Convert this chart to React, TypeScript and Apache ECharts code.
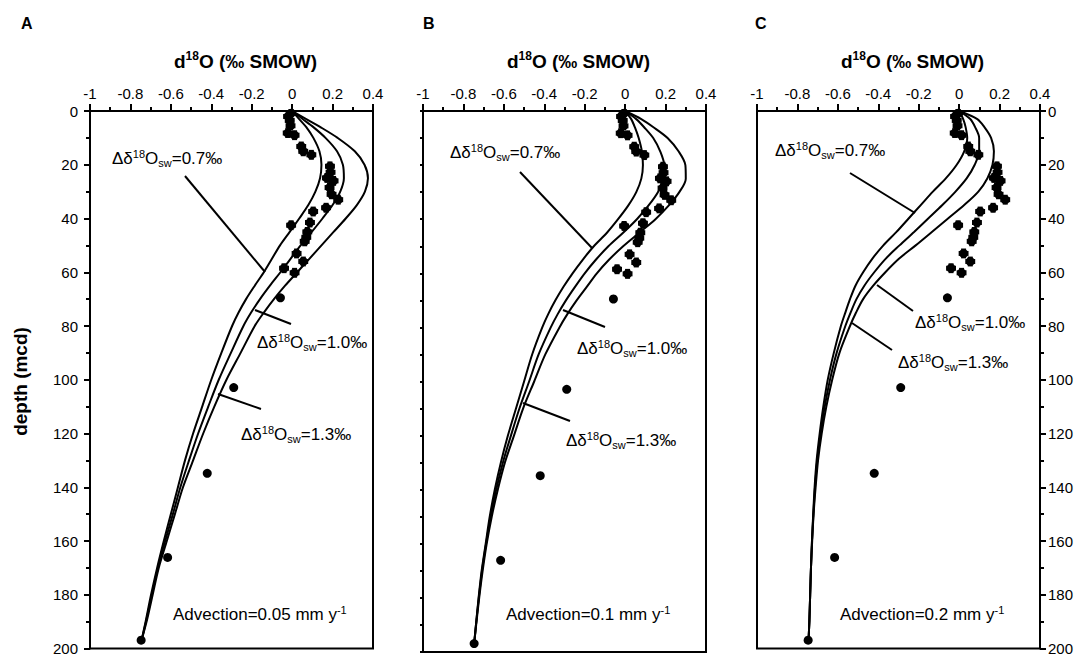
import { useEffect, useRef } from 'react';
import * as echarts from 'echarts';

// ---------- data ----------
const xTickLabels = ['-1', '-0.8', '-0.6', '-0.4', '-0.2', '0', '0.2', '0.4'];
const yTickLabels = ['0', '20', '40', '60', '80', '100', '120', '140', '160', '180', '200'];
const panelLetters = ['A', 'B', 'C'];
const advectionRates = ['0.05', '0.1', '0.2'];
const deltaSW = ['0.7', '1.0', '1.3'];

// depth grid for model curves (mcd)
const modelDepth = [0, 3, 6, 10, 15, 20, 25, 30, 35, 40, 45, 50, 55, 60, 65, 70, 75, 80, 90, 100, 110, 120, 130, 140, 150, 160, 170, 180, 190, 197];

// Panel A (advection 0.05 mm/y)
const a07 = [0, 0.035, 0.07, 0.105, 0.135, 0.145, 0.138, 0.115, 0.08, 0.035, -0.012, -0.06, -0.1, -0.14, -0.185, -0.228, -0.265, -0.297, -0.35, -0.4, -0.445, -0.49, -0.53, -0.565, -0.6, -0.635, -0.668, -0.698, -0.725, -0.745];
const a10 = [0, 0.052, 0.105, 0.165, 0.222, 0.251, 0.256, 0.238, 0.2, 0.15, 0.097, 0.042, -0.008, -0.058, -0.11, -0.159, -0.203, -0.241, -0.303, -0.363, -0.415, -0.465, -0.51, -0.553, -0.59, -0.628, -0.664, -0.694, -0.723, -0.745];
const a13 = [0, 0.07, 0.14, 0.225, 0.31, 0.358, 0.375, 0.36, 0.32, 0.265, 0.205, 0.145, 0.085, 0.025, -0.035, -0.09, -0.14, -0.185, -0.255, -0.325, -0.385, -0.44, -0.49, -0.54, -0.58, -0.62, -0.66, -0.69, -0.72, -0.745];

// Panel B (advection 0.1 mm/y)
const b07 = [0, 0.03, 0.048, 0.067, 0.083, 0.088, 0.08, 0.055, 0.015, -0.035, -0.09, -0.155, -0.21, -0.26, -0.305, -0.345, -0.38, -0.41, -0.46, -0.5, -0.54, -0.58, -0.615, -0.645, -0.67, -0.69, -0.71, -0.725, -0.738, -0.747];
const b10 = [0, 0.055, 0.094, 0.139, 0.174, 0.193, 0.19, 0.162, 0.115, 0.058, -0.01, -0.083, -0.145, -0.2, -0.248, -0.293, -0.333, -0.368, -0.428, -0.475, -0.523, -0.565, -0.605, -0.638, -0.665, -0.688, -0.708, -0.724, -0.738, -0.747];
const b13 = [0, 0.08, 0.14, 0.21, 0.265, 0.298, 0.3, 0.268, 0.215, 0.15, 0.07, -0.01, -0.08, -0.14, -0.19, -0.24, -0.285, -0.325, -0.395, -0.45, -0.505, -0.55, -0.595, -0.63, -0.66, -0.685, -0.705, -0.722, -0.737, -0.747];

// Panel C (advection 0.2 mm/y)
const c07 = [0, 0.02, 0.032, 0.04, 0.025, -0.012, -0.065, -0.13, -0.19, -0.25, -0.31, -0.375, -0.43, -0.475, -0.513, -0.54, -0.563, -0.585, -0.62, -0.65, -0.672, -0.69, -0.705, -0.715, -0.722, -0.728, -0.733, -0.737, -0.741, -0.745];
const c10 = [0, 0.055, 0.079, 0.099, 0.099, 0.077, 0.038, -0.018, -0.083, -0.153, -0.223, -0.295, -0.364, -0.42, -0.469, -0.508, -0.537, -0.563, -0.606, -0.639, -0.665, -0.685, -0.702, -0.713, -0.721, -0.728, -0.733, -0.737, -0.741, -0.745];
const c13 = [0, 0.09, 0.125, 0.158, 0.172, 0.165, 0.14, 0.095, 0.025, -0.055, -0.135, -0.215, -0.298, -0.365, -0.425, -0.475, -0.51, -0.54, -0.592, -0.628, -0.657, -0.68, -0.698, -0.71, -0.72, -0.727, -0.733, -0.737, -0.741, -0.745];

// Observed pore-water d18O
const obsDepth = [0.8, 2.0, 3.5, 5.5, 8.2, 9.0, 13.2, 15.0, 16.3, 20.6, 22.8, 24.9, 26.0, 28.5, 31.0, 33.0, 36.0, 37.4, 41.5, 42.5, 45.0, 47.0, 48.5, 53.0, 56.0, 58.5, 60.2, 69.5, 102.9, 134.8, 166.1, 196.9];
const obsValue = [-0.005, -0.02, -0.012, -0.008, -0.022, 0.012, 0.045, 0.055, 0.095, 0.187, 0.19, 0.172, 0.205, 0.185, 0.195, 0.228, 0.168, 0.104, 0.088, -0.005, 0.075, 0.07, 0.062, 0.022, 0.055, -0.04, 0.012, -0.058, -0.289, -0.42, -0.616, -0.747];
const obsXErr = [0.02, 0.02, 0.02, 0.02, 0.02, 0.02, 0.02, 0.02, 0.02, 0.02, 0.02, 0.02, 0.02, 0.02, 0.02, 0.02, 0.02, 0.02, 0.02, 0.02, 0.02, 0.02, 0.02, 0.02, 0.02, 0.02, 0.02, 0, 0, 0, 0, 0];
const obsYErr = [1.2, 1.2, 1.2, 1.2, 1.5, 1.5, 1.5, 1.5, 1.5, 1.5, 1.5, 1.5, 1.5, 1.5, 1.5, 1.5, 1.5, 1.5, 1.5, 1.5, 1.5, 1.5, 1.5, 1.5, 1.5, 1.5, 1.5, 0, 0, 0, 0, 0];

const panelCurves = [
  [a07, a10, a13],
  [b07, b10, b13],
  [c07, c10, c13],
];

// ---------- layout ----------
const FONT = '"Liberation Sans", Arial, Helvetica, sans-serif';
const GRID_TOP = 111;
const GRID_W = 283;
const GRID_H = 541;
const gridLefts = [90, 423, 757];
const letterX = [21, 423, 755];

// annotation layout per panel: label [x, yCenter], leader [x1,y1,x2,y2]
const annoLayout = [
  {
    labels: [[112, 158], [257, 342], [241, 434]],
    leaders: [[185, 176, 265, 272], [255, 310, 291, 324], [218, 394, 261, 409]],
    adv: [173, 614],
  },
  {
    labels: [[450, 152], [577, 348], [566, 440]],
    leaders: [[520, 172, 592, 248], [563, 310, 605, 327], [523, 403, 570, 421]],
    adv: [506, 614],
  },
  {
    labels: [[775, 150], [915, 322], [898, 362]],
    leaders: [[850, 173, 915, 213], [877, 285, 913, 311], [852, 323, 892, 350]],
    adv: [840, 614],
  },
];

const annoRich = {
  n: { fontSize: 17, fontFamily: FONT, lineHeight: 20, verticalAlign: 'middle', fill: '#000' },
  sup: { fontSize: 11, fontFamily: FONT, lineHeight: 14, verticalAlign: 'top', fill: '#000' },
  sub: { fontSize: 11, fontFamily: FONT, lineHeight: 8, verticalAlign: 'bottom', fill: '#000' },
};
const titleRich = {
  b: { fontSize: 19, fontWeight: 'bold', fontFamily: FONT, lineHeight: 22, verticalAlign: 'middle', fill: '#000' },
  sup: { fontSize: 12, fontWeight: 'bold', fontFamily: FONT, lineHeight: 15, verticalAlign: 'top', fill: '#000' },
};

export default function App() {
  const ref = useRef<HTMLDivElement>(null);

  useEffect(() => {
    if (!ref.current) return;
    const chart = echarts.init(ref.current, null, { renderer: 'svg' });

    const xFmt = (v: number) => xTickLabels[Math.round((v + 1) / 0.2)] ?? '';
    const yFmt = (v: number) => yTickLabels[Math.round(v / 20)] ?? '';
    const black = { color: '#000', width: 2 };

    const grid = gridLefts.map((left) => ({
      left, top: GRID_TOP, width: GRID_W, height: GRID_H,
      show: true, borderColor: '#000', borderWidth: 2, backgroundColor: 'transparent',
    }));

    const xAxis = gridLefts.map((_, i) => ({
      gridIndex: i, type: 'value', position: 'top', min: -1, max: 0.4, interval: 0.2,
      axisLine: { show: true, onZero: false, lineStyle: black },
      axisTick: { show: true, inside: false, length: 7, lineStyle: black },
      minorTick: { show: true, splitNumber: 2, length: 4, lineStyle: black },
      splitLine: { show: false }, minorSplitLine: { show: false },
      axisLabel: { show: true, margin: 10, fontSize: 15, color: '#000', fontFamily: FONT, formatter: xFmt },
    }));

    const yAxis = [
      {
        gridIndex: 0, type: 'value', inverse: true, min: 0, max: 200, interval: 20, position: 'left',
        axisLine: { show: true, onZero: false, lineStyle: black },
        axisTick: { show: true, inside: false, length: 6, lineStyle: black },
        minorTick: { show: true, splitNumber: 2, length: 4, lineStyle: black },
        splitLine: { show: false },
        axisLabel: { show: true, margin: 12, fontSize: 15, color: '#000', fontFamily: FONT, formatter: yFmt },
      },
      {
        gridIndex: 1, type: 'value', inverse: true, min: 0, max: 200, interval: 10, position: 'left',
        axisLine: { show: true, onZero: false, lineStyle: black },
        axisTick: { show: true, inside: false, length: 3, lineStyle: black },
        splitLine: { show: false },
        axisLabel: { show: false },
      },
      {
        gridIndex: 2, type: 'value', inverse: true, min: 0, max: 200, interval: 20, position: 'right',
        axisLine: { show: true, onZero: false, lineStyle: black },
        axisTick: { show: true, inside: false, length: 6, lineStyle: black },
        minorTick: { show: true, splitNumber: 2, length: 4, lineStyle: black },
        splitLine: { show: false },
        axisLabel: { show: true, margin: 8, fontSize: 15, color: '#000', fontFamily: FONT, formatter: yFmt },
      },
    ];

    const obsData = obsValue.map((v, i) => [v, obsDepth[i]]);
    const errData = obsValue
      .map((v, i) => [v, obsDepth[i], obsXErr[i], obsYErr[i]])
      .filter((d) => d[2] > 0 || d[3] > 0);

    const series: any[] = [];
    panelCurves.forEach((curves, p) => {
      curves.forEach((vals, k) => {
        series.push({
          name: `${panelLetters[p]}-${deltaSW[k]}`,
          type: 'line', xAxisIndex: p, yAxisIndex: p,
          data: vals.map((v, i) => [v, modelDepth[i]]),
          smooth: 0.3, symbol: 'none',
          lineStyle: { color: '#000', width: 2 },
          z: 3,
        });
      });
      series.push({
        type: 'custom', xAxisIndex: p, yAxisIndex: p, data: errData,
        encode: { x: 0, y: 1 },
        renderItem: (params: any, api: any) => {
          const v = api.value(0), d = api.value(1), xe = api.value(2), ye = api.value(3);
          const l = api.coord([v - xe, d]);
          const r = api.coord([v + xe, d]);
          const t = api.coord([v, d - ye]);
          const b = api.coord([v, d + ye]);
          const st = { stroke: '#000', lineWidth: 1.8 };
          const cap = 2.5;
          return {
            type: 'group',
            children: [
              { type: 'line', shape: { x1: l[0], y1: l[1], x2: r[0], y2: r[1] }, style: st },
              { type: 'line', shape: { x1: l[0], y1: l[1] - cap, x2: l[0], y2: l[1] + cap }, style: st },
              { type: 'line', shape: { x1: r[0], y1: r[1] - cap, x2: r[0], y2: r[1] + cap }, style: st },
              { type: 'line', shape: { x1: t[0], y1: t[1], x2: b[0], y2: b[1] }, style: st },
              { type: 'line', shape: { x1: t[0] - cap, y1: t[1], x2: t[0] + cap, y2: t[1] }, style: st },
              { type: 'line', shape: { x1: b[0] - cap, y1: b[1], x2: b[0] + cap, y2: b[1] }, style: st },
            ],
          };
        },
        z: 4,
      });
      series.push({
        type: 'scatter', xAxisIndex: p, yAxisIndex: p, data: obsData,
        symbol: 'circle', symbolSize: 9, itemStyle: { color: '#000', opacity: 1 }, z: 5,
      });
    });

    const graphic: any[] = [];
    gridLefts.forEach((left, p) => {
      // panel letter
      graphic.push({
        type: 'text', x: letterX[p], y: 23,
        style: { text: panelLetters[p], fontSize: 16, fontWeight: 'bold', fontFamily: FONT, fill: '#000', align: 'left', verticalAlign: 'middle' },
      });
      // axis title
      graphic.push({
        type: 'text', x: left + GRID_W / 2 + 14, y: 61,
        style: { text: '{b|d}{sup|18}{b|O (‰ SMOW)}', rich: titleRich, align: 'center', verticalAlign: 'middle', fontSize: 19, fontFamily: FONT, fill: '#000' },
      });
      const lay = annoLayout[p];
      deltaSW.forEach((ds, k) => {
        const [tx, ty] = lay.labels[k];
        graphic.push({
          type: 'text', x: tx, y: ty,
          style: { text: `{n|Δδ}{sup|18}{n|O}{sub|sw}{n|=${ds}‰}`, rich: annoRich, align: 'left', verticalAlign: 'middle', fontSize: 17, fontFamily: FONT, fill: '#000' },
        });
        const [x1, y1, x2, y2] = lay.leaders[k];
        graphic.push({ type: 'line', shape: { x1, y1, x2, y2 }, style: { stroke: '#000', lineWidth: 2 } });
      });
      graphic.push({
        type: 'text', x: lay.adv[0], y: lay.adv[1],
        style: { text: `{n|Advection=${advectionRates[p]} mm y}{sup|-1}`, rich: annoRich, align: 'left', verticalAlign: 'middle', fontSize: 17, fontFamily: FONT, fill: '#000' },
      });
    });
    // y-axis title
    graphic.push({
      type: 'text', x: 20, y: GRID_TOP + GRID_H / 2, rotation: Math.PI / 2,
      style: { text: 'depth (mcd)', fontSize: 19, fontWeight: 'bold', fontFamily: FONT, fill: '#000', align: 'center', verticalAlign: 'middle' },
    });

    chart.setOption({
      animation: false,
      backgroundColor: '#fff',
      grid, xAxis, yAxis, series, graphic,
    });

    return () => chart.dispose();
  }, []);

  return (
    <div
      ref={ref}
      style={{ position: 'fixed', left: 0, top: 0, width: 1080, height: 656, background: '#fff' }}
    />
  );
}
